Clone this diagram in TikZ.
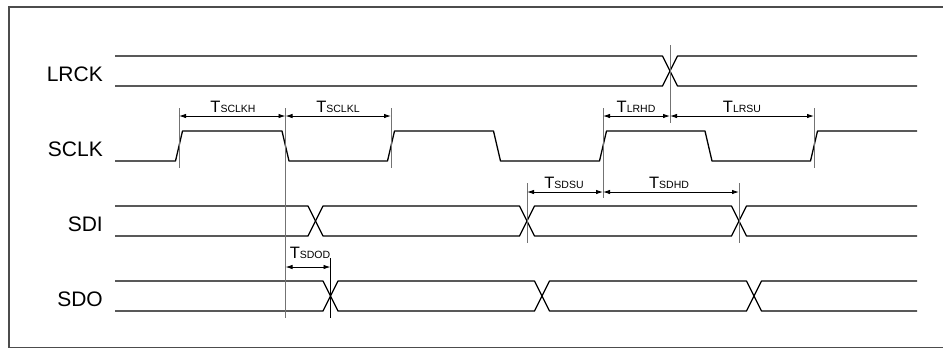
\documentclass[tikz,border=0pt]{standalone}
\usepackage{fontspec}
\setmainfont{Liberation Sans}
\usetikzlibrary{arrows.meta}

\tikzset{
  wave/.style={line width=1.3pt,black,line join=round},
  guide/.style={line width=0.9pt,black!55},
  dim/.style={<->,>={Latex[length=7pt,width=4.5pt]},line width=0.9pt},
  signame/.style={font=\fontsize{21}{21}\selectfont,anchor=base east,inner sep=0pt},
  tlab/.style={anchor=base,inner sep=0pt}
}
\newcommand{\tparam}[1]{{\fontsize{16.5}{16.5}\selectfont T}{\fontsize{10.5}{10.5}\selectfont #1}}

\begin{document}
\begin{tikzpicture}[x=1pt,y=-1pt]
            \useasboundingbox (0,0) rectangle (943,349);
            % Frame
            \draw[black!70,line width=1.2pt] (9,347.5) -- (9,7) -- (960,7);
            \draw[black!70,line width=1.2pt] (9,347.5) -- (960,347.5);
            % Signal names
            \node[signame] (lrck) at (103,81.5) {LRCK};
            \node[signame] (sclk) at (103,156.5) {SCLK};
            \node[signame] (sdi) at (103,231.5) {SDI};
            \node[signame] (sdo) at (103,306.5) {SDO};
            % LRCK
            \draw[wave] (115,56) -- (662.5,56) -- (677.5,86) -- (917,86);
            \draw[wave] (115,86) -- (662.5,86) -- (677.5,56) -- (917,56);
            % SCLK
            \draw[wave] (115,161) -- (175.5,161) -- (182.5,131) -- (282,131)
                -- (289,161) -- (387.5,161) -- (394.5,131) -- (493.5,131)
                -- (500.5,161) -- (599.5,161) -- (606.5,131) -- (705,131)
                -- (712,161) -- (810.5,161) -- (817.5,131) -- (917,131);
            % SDI
            \draw[wave] (115,206) -- (308,206) -- (315.5,221) -- (308,236) -- (115,236);
            \foreach \a/\b in {315.5/527,527/739}
                \draw[wave] (\a,221) -- (\a+7.5,206) -- (\b-7.5,206) -- (\b,221)
                    -- (\b-7.5,236) -- (\a+7.5,236) -- cycle;
            \draw[wave] (917,206) -- (746.5,206) -- (739,221) -- (746.5,236) -- (917,236);
            % SDO
            \draw[wave] (115,281) -- (323,281) -- (330.5,296) -- (323,311) -- (115,311);
            \foreach \a/\b in {330.5/542,542/754}
                \draw[wave] (\a,296) -- (\a+7.5,281) -- (\b-7.5,281) -- (\b,296)
                    -- (\b-7.5,311) -- (\a+7.5,311) -- cycle;
            \draw[wave] (917,281) -- (761.5,281) -- (754,296) -- (761.5,311) -- (917,311);
            % Guide lines
            \draw[guide] (670,45) -- (670,123);
            \draw[guide] (179,108) -- (179,168);
            \draw[guide] (285.5,108) -- (285.5,318);
            \draw[guide] (391,108) -- (391,168);
            \draw[guide] (603,108) -- (603,198);
            \draw[guide] (814,108) -- (814,168);
            \draw[guide] (527,183) -- (527,243);
            \draw[guide] (739,183) -- (739,243);
            \draw[guide,black] (330.5,258) -- (330.5,318);
            % Timing arrows
            \coordinate (ckr1) at (179,116);
            \coordinate (ckf1) at (285.5,116);
            \coordinate (ckr2) at (391,116);
            \coordinate (ckr3) at (603,116);
            \coordinate (lrx) at (670,116);
            \coordinate (ckr4) at (814,116);
            \coordinate (dsu) at (527,192);
            \coordinate (dck) at (603,192);
            \coordinate (dhd) at (739,192);
            \coordinate (od1) at (285.5,267);
            \coordinate (od2) at (330.5,267);
            \draw[dim] (ckr1) -- (ckf1);
            \draw[dim] (ckf1) -- (ckr2);
            \draw[dim] (ckr3) -- (lrx);
            \draw[dim] (lrx) -- (ckr4);
            \draw[dim] (dsu) -- (dck);
            \draw[dim] (dck) -- (dhd);
            \draw[dim] (od1) -- (od2);
            % Timing names
            \node[tlab] (tsclkh) at (233,112) {\tparam{SCLKH}};
            \node[tlab] (tsclkl) at (338,112) {\tparam{SCLKL}};
            \node[tlab] (tlrhd) at (636,112) {\tparam{LRHD}};
            \node[tlab] (tlrsu) at (742,112) {\tparam{LRSU}};
            \node[tlab] (tsdsu) at (564,188) {\tparam{SDSU}};
            \node[tlab] (tsdhd) at (669,188) {\tparam{SDHD}};
            \node[tlab] (tsdod) at (310,258) {\tparam{SDOD}};
           \end{tikzpicture}
\end{document}
